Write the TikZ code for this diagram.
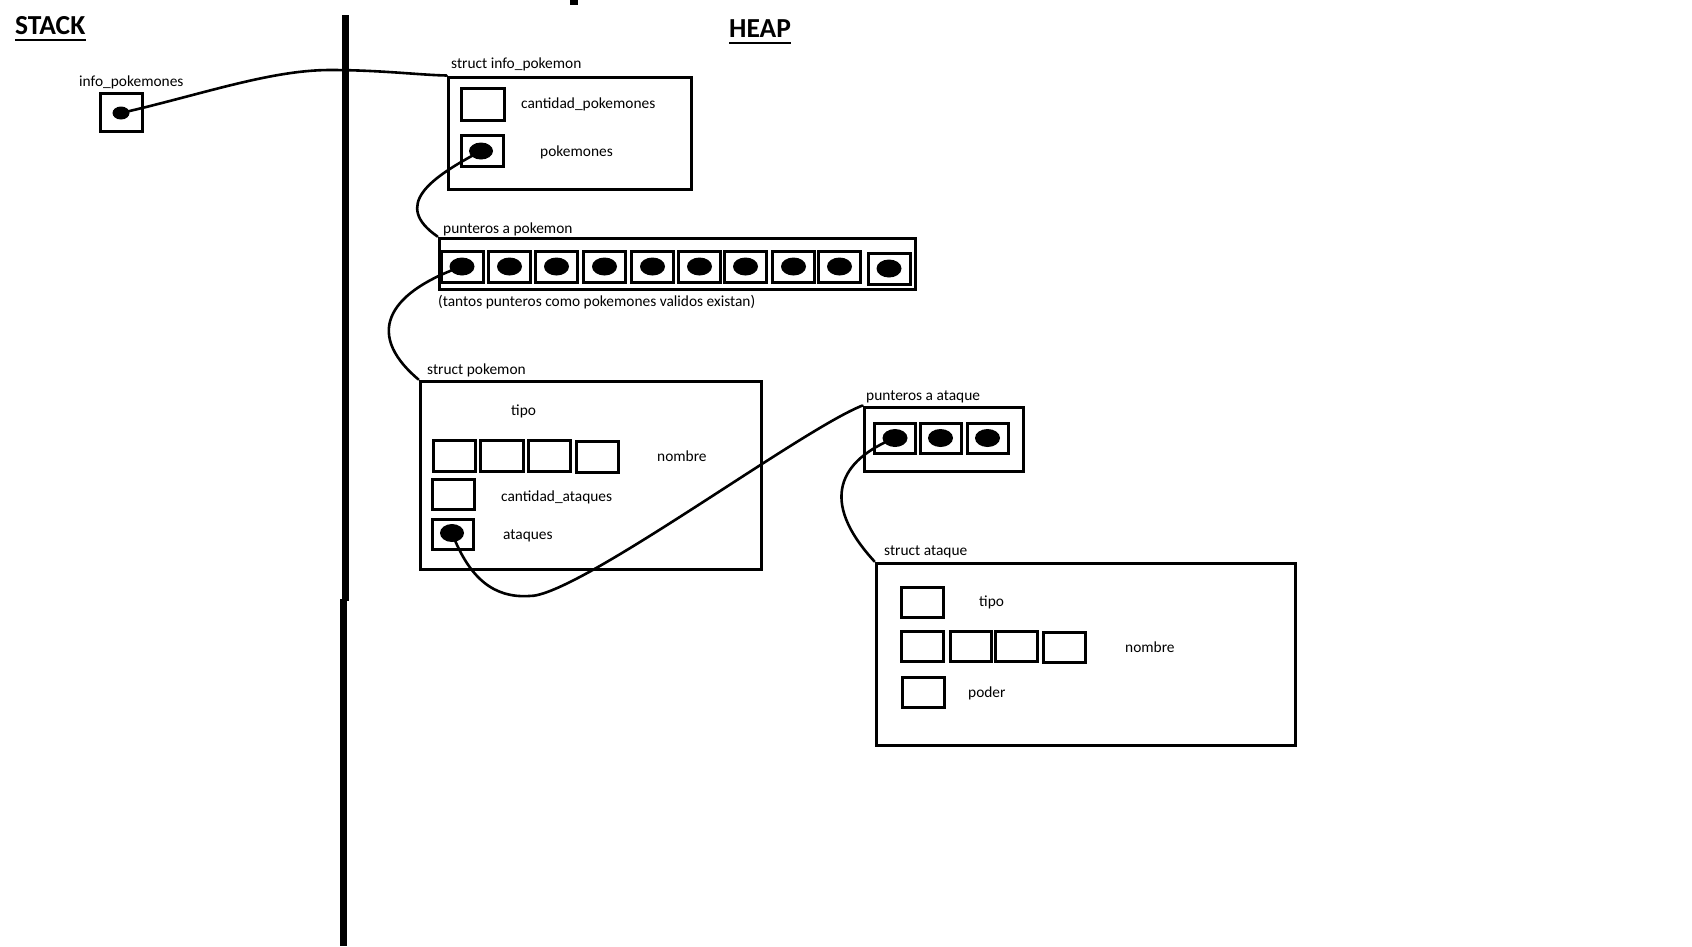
\documentclass[tikz,border=0pt]{standalone}
\usepackage{fontspec}
\setmainfont{Carlito}
\usetikzlibrary{shapes.geometric}
\begin{document}
\begin{tikzpicture}[x=1pt,y=-1pt,
  cell/.style={draw,line width=3pt,inner sep=0pt,minimum width=#1,minimum height=30pt},
  cell/.default=42pt,
  frame/.style={draw,line width=3pt,inner sep=0pt},
  ptr/.style={ellipse,fill=black,inner sep=0pt,minimum width=25pt,minimum height=18pt},
  lbl/.style={anchor=west,inner sep=0pt,yshift=-1.5pt,font=\fontsize{15.4}{18}\selectfont},
  title/.style={anchor=west,inner sep=0pt,font=\fontsize{27.5}{32}\selectfont\bfseries},
  wire/.style={line width=2.6pt,line cap=round},
  divider/.style={line width=7pt}]
\useasboundingbox[fill=white] (0,0) rectangle (1692,946);

% titles
\node[title] (stack) at (15,26) {STACK};
\node[title] (heap) at (729,29) {HEAP};
\draw[line width=2.5pt] ([yshift=-5pt]stack.base west) -- ([yshift=-5pt]stack.base east);
\draw[line width=2.5pt] ([yshift=-5pt]heap.base west) -- ([yshift=-5pt]heap.base east);
\fill (570,0) rectangle (578,5);

% stack / heap divider
\draw[divider] (345,15) -- (345,601);
\draw[divider] (343,599) -- (343,946);

% stack variable
\node[lbl] (lip) at (79,81) {info\_pokemones};
\node[frame,minimum width=42pt,minimum height=38pt] (ip) at (121,112) {};
\node[ptr,minimum width=17pt,minimum height=13pt] (ipdot) at (121,113) {};

% struct info_pokemon
\node[lbl] (lsip) at (451,63) {struct info\_pokemon};
\node[frame,minimum width=243pt,minimum height=112pt] (sip) at (569.5,133) {};
\node[cell=43pt,minimum height=32pt] (cp) at (482.5,104) {};
\node[lbl] (lcp) at (521,103) {cantidad\_pokemones};
\node[cell,minimum height=31pt] (pk) at (482,150.5) {};
\node[ptr,minimum width=24pt,minimum height=17pt] (pkdot) at (481,151) {};
\node[lbl] (lpk) at (540,151) {pokemones};

% array of pointers to pokemon
\node[lbl] (lppk) at (443,228) {punteros a pokemon};
\node[frame,minimum width=476pt,minimum height=51pt] (ppk) at (677,263.5) {};
\foreach \i/\cx/\cy in {1/462/266.5,2/509.5/266.5,3/556.5/266.5,4/604.5/266.5,5/652.5/266.5,
                        6/699.5/266.5,7/745.5/266.5,8/793.5/266.5,9/839.5/266.5,10/889/268.5}{
  \node[cell,minimum height=31pt] (pp\i) at (\cx,\cy) {};
  \node[ptr] (ppd\i) at (\cx,\cy) {};
}
\node[lbl] (lnote) at (438,301) {(tantos punteros como pokemones validos existan)};

% struct pokemon
\node[lbl] (lsp) at (427,369) {struct pokemon};
\node[frame,minimum width=341pt,minimum height=188pt] (sp) at (590.5,475) {};
\node[lbl] (ltipo) at (511,410) {tipo};
\node[cell,minimum height=31pt] (pn1) at (454,455.5) {};
\node[cell=43pt,minimum height=31pt] (pn2) at (501.5,455.5) {};
\node[cell,minimum height=31pt] (pn3) at (549,456) {};
\node[cell,minimum height=31pt] (pn4) at (597,457) {};
\node[lbl] (lpn) at (657,455) {nombre};
\node[cell] (pca) at (453,494) {};
\node[lbl] (lpca) at (501,496) {cantidad\_ataques};
\node[cell=41pt] (pat) at (452.5,534) {};
\node[ptr,minimum width=24pt,minimum height=18pt] (patdot) at (452,533) {};
\node[lbl] (lpat) at (503,534) {ataques};

% array of pointers to ataque
\node[lbl] (lppa) at (866,395) {punteros a ataque};
\node[frame,minimum width=159pt,minimum height=64pt] (ppa) at (943.5,439) {};
\foreach \i/\cx in {1/895,2/940.5,3/987.5}{
  \node[cell=41pt] (pa\i) at (\cx,438) {};
  \node[ptr] (pad\i) at (\cx,438) {};
}

% struct ataque
\node[lbl] (lsa) at (884,550) {struct ataque};
\node[frame,minimum width=419pt,minimum height=182pt] (sa) at (1085.5,654) {};
\node[cell] (at) at (922,602) {};
\node[lbl] (lat) at (979,601) {tipo};
\node[cell] (an1) at (922,646) {};
\node[cell=41pt] (an2) at (970.5,646) {};
\node[cell] (an3) at (1016,646) {};
\node[cell] (an4) at (1064,647) {};
\node[lbl] (lan) at (1125,646) {nombre};
\node[cell] (ap) at (923,692) {};
\node[lbl] (lap) at (968,692) {poder};

% pointers
\draw[wire] (ipdot.center) .. controls (200,95) and (270,70) .. (330,70)
            .. controls (380,70) and (420,75) .. (sip.north west);
\draw[wire] (pkdot.center) .. controls (430,178) and (392,205) .. (ppk.north west);
\draw[wire] (ppd1.center) .. controls (395,290) and (360,330) .. (sp.north west);
\draw[wire] (patdot.center) .. controls (470,580) and (495,598) .. (529,596)
            .. controls (575,598) and (800,430) .. (ppa.north west);
\draw[wire] (pad1.center) .. controls (840,460) and (818,500) .. (sa.north west);
\end{tikzpicture}
\end{document}
